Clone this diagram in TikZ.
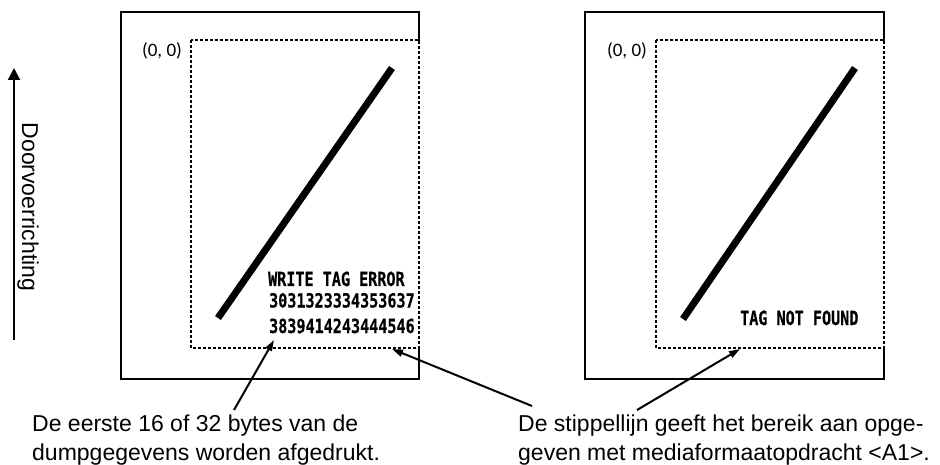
\documentclass[tikz,border=0pt]{standalone}
\usepackage{fontspec}
\setmainfont{Liberation Sans}
\newfontfamily\carlitofont{Carlito}
\newfontfamily\printfont{DejaVu Sans Mono Bold}[FakeBold=0.6]
\usetikzlibrary{arrows.meta}
\tikzset{
  frame/.style={line width=2pt, line cap=rect, line join=miter},
  rangebox/.style={line width=1.1pt, dash pattern=on 3pt off 2pt},
  stroke/.style={line width=7pt, line cap=butt},
  callout/.style={line width=2pt, -{Triangle[length=11pt,width=7pt]}},
  body/.style={font=\fontsize{23}{29}\selectfont, inner sep=0pt, anchor=base west},
  origin/.style={font=\carlitofont\fontsize{19}{22}\selectfont, inner sep=0pt},
  printed/.style={font=\printfont\fontsize{19.5}{22}\selectfont, inner sep=0pt, anchor=base west, xscale=0.775, transform shape},
}
\begin{document}
\begin{tikzpicture}[x=1pt,y=-1pt]
\useasboundingbox (0,0) rectangle (940,465);
% feed direction
\coordinate (fb) at (14,340);
\coordinate (ft) at (14,68);
\draw[line width=2pt, -{Triangle[length=12pt,width=12pt]}] (fb) -- (ft);
\node[font=\fontsize{23}{29}\selectfont, rotate=-90, inner sep=0pt, anchor=base] (feed) at (22,207) {Doorvoerrichting};

% left label
\draw[frame] (419,40) -- (419,12) -- (121,12) -- (121,379) -- (419,379) -- (419,348);
\draw[rangebox] (191,40) rectangle (419,348);
\node[origin] (o1) at (162,51) {(0, 0)};
\coordinate (s1a) at (392,68);
\coordinate (s1b) at (218,318);
\draw[stroke] (s1a) -- (s1b);
\node[printed] (w1) at (268,286) {WRITE TAG ERROR};
\node[printed] (w2) at (269,307.5) {3031323334353637};
\node[printed] (w3) at (269,333) {3839414243444546};

% right label
\draw[frame] (884,40) -- (884,12) -- (585,12) -- (585,379) -- (884,379) -- (884,348);
\draw[rangebox] (656,40) rectangle (884,348);
\node[origin] (o2) at (627,51) {(0, 0)};
\coordinate (s2a) at (855,68);
\coordinate (s2b) at (683,319);
\draw[stroke] (s2a) -- (s2b);
\node[printed] (t1) at (740,325) {TAG NOT FOUND};

% captions
\node[body] (l1) at (32,431) {De eerste 16 of 32 bytes van de};
\node[body] (l2) at (32,460) {dumpgegevens worden afgedrukt.};
\node[body] (r1) at (518,431) {De stippellijn geeft het bereik aan opge-};
\node[body] (r2) at (518,460) {geven met mediaformaatopdracht <A1>.};

% callouts
\coordinate (a1t) at (234,410);
\coordinate (a1h) at (274,340);
\coordinate (a2t) at (532,406);
\coordinate (a2h) at (392,349);
\coordinate (a3t) at (637,410);
\coordinate (a3h) at (740,349);
\draw[callout] (a1t) -- (a1h);
\draw[callout] (a2t) -- (a2h);
\draw[callout] (a3t) -- (a3h);
\end{tikzpicture}
\end{document}
